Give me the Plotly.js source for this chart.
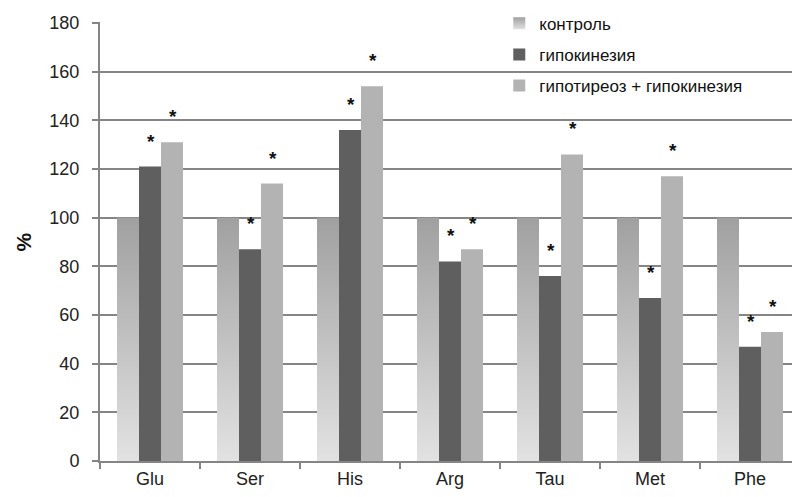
<!DOCTYPE html>
<html>
<head>
<meta charset="utf-8">
<script src="https://cdn.plot.ly/plotly-3.0.1.min.js"></script>
<style>html,body{margin:0;padding:0;background:#fff;}</style>
</head>
<body>
<div id="chart" style="width:792px;height:497px;"></div>
<script>
var categories = ["Glu", "Ser", "His", "Arg", "Tau", "Met", "Phe"];
var seriesNames = ["контроль", "гипокинезия", "гипотиреоз + гипокинезия"];
var control = [100, 100, 100, 100, 100, 100, 100];
var hypokinesia = [121, 87, 136, 82, 76, 67, 47];
var hypoHypo = [131, 114, 154, 87, 126, 117, 53];
var starsHypokinesia = [true, true, true, true, true, true, true];
var starsHypoHypo = [true, true, true, true, true, true, true];

var FONT = "Liberation Sans, Arial, sans-serif";
var GRID = "#858585";

var traces = [
  {type: "bar", name: seriesNames[0], x: categories, y: control,
   marker: {color: "#b4b4b4", line: {width: 0}}, legendgroup: "a"},
  {type: "bar", name: seriesNames[1], x: categories, y: hypokinesia,
   marker: {color: "#5f5f5f", line: {width: 0}}, legendgroup: "b"},
  {type: "bar", name: seriesNames[2], x: categories, y: hypoHypo,
   marker: {color: "#b3b3b3", line: {width: 0}}, legendgroup: "c"}
];

var annotations = [];
function addStars(vals, flags, offset) {
  for (var i = 0; i < vals.length; i++) {
    if (!flags[i]) continue;
    annotations.push({
      x: i + offset, y: vals[i] + 10.5, xref: "x", yref: "y",
      text: "<b>*</b>", showarrow: false, yanchor: "middle",
      font: {family: FONT, size: 19, color: "#111"}
    });
  }
}
addStars(hypokinesia, starsHypokinesia, 0.005);
addStars(hypoHypo, starsHypoHypo, 0.225);

annotations.push({
  text: "%", textangle: -90, xref: "paper", yref: "paper",
  x: -0.11, y: 0.5, showarrow: false, xanchor: "center", yanchor: "middle",
  font: {family: FONT, size: 21, color: "#111", weight: "bold"}
});

var layout = {
  width: 792, height: 497,
  margin: {l: 100, r: 0, t: 22, b: 36, pad: 0, autoexpand: false},
  paper_bgcolor: "#fff", plot_bgcolor: "#fff",
  barmode: "group", bargap: 0.34, bargroupgap: 0,
  showlegend: true,
  legend: {
    x: 0.577, y: 1.037, xanchor: "left", yanchor: "top",
    bgcolor: "rgba(0,0,0,0)", borderwidth: 0,
    font: {family: FONT, size: 17, color: "#111"},
    traceorder: "grouped", tracegroupgap: 6
  },
  xaxis: {
    type: "category", range: [-0.5, 6.42],
    showline: true, linecolor: GRID, linewidth: 2,
    ticks: "outside", tickson: "boundaries", ticklen: 6, tickwidth: 2, tickcolor: GRID,
    showgrid: false, zeroline: false,
    tickfont: {family: FONT, size: 18, color: "#222"}
  },
  yaxis: {
    range: [0, 180.4], dtick: 20, tick0: 0,
    showline: true, linecolor: GRID, linewidth: 2,
    ticks: "outside", ticklen: 6, tickwidth: 2, tickcolor: GRID,
    showgrid: true, gridcolor: GRID, gridwidth: 2,
    zeroline: false,
    tickfont: {family: FONT, size: 18, color: "#222"}, ticklabelstandoff: 9
  },
  annotations: annotations
};

function applyGradient() {
  var svg = document.querySelector("#chart .main-svg");
  if (!svg) return;
  var defs = svg.querySelector("defs");
  if (!document.getElementById("ctrlGrad")) {
    var ns = "http://www.w3.org/2000/svg";
    var g = document.createElementNS(ns, "linearGradient");
    g.setAttribute("id", "ctrlGrad");
    g.setAttribute("x1", "0"); g.setAttribute("y1", "0");
    g.setAttribute("x2", "0"); g.setAttribute("y2", "1");
    var s1 = document.createElementNS(ns, "stop");
    s1.setAttribute("offset", "0"); s1.setAttribute("stop-color", "#a0a0a0");
    var s2 = document.createElementNS(ns, "stop");
    s2.setAttribute("offset", "1"); s2.setAttribute("stop-color", "#e2e2e2");
    g.appendChild(s1); g.appendChild(s2);
    defs.appendChild(g);
  }
  var tr = document.querySelectorAll("#chart .barlayer .trace.bars");
  if (tr.length) {
    tr[0].querySelectorAll("path").forEach(function (p) { p.style.fill = "url(#ctrlGrad)"; });
  }
  var leg = document.querySelectorAll("#chart .legend .traces");
  if (leg.length) {
    leg[0].querySelectorAll("path").forEach(function (p) { p.style.fill = "url(#ctrlGrad)"; });
  }
}

Plotly.newPlot("chart", traces, layout, {displayModeBar: false, staticPlot: true}).then(function (gd) {
  applyGradient();
  gd.on("plotly_afterplot", applyGradient);
});
</script>
</body>
</html>
